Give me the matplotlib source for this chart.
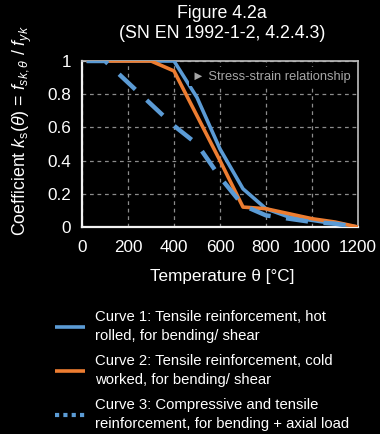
import matplotlib
matplotlib.use("Agg")
import matplotlib.pyplot as plt
from matplotlib.lines import Line2D

plt.rcParams['font.family'] = ['Liberation Sans', 'DejaVu Sans']
plt.rcParams['mathtext.fontset'] = 'custom'
plt.rcParams['mathtext.rm'] = 'Liberation Sans'
plt.rcParams['mathtext.it'] = 'Liberation Sans:italic'

temps = [20, 100, 200, 300, 400, 500, 600, 700, 800, 900, 1000, 1100, 1200]
curve1 = [1.00, 1.00, 1.00, 1.00, 1.00, 0.78, 0.47, 0.23, 0.11, 0.06, 0.04, 0.02, 0.00]
curve2 = [1.00, 1.00, 1.00, 1.00, 0.94, 0.67, 0.40, 0.12, 0.11, 0.08, 0.05, 0.03, 0.00]
curve3 = [1.00, 1.00, 0.87, 0.74, 0.61, 0.50, 0.30, 0.13, 0.07, 0.05, 0.03, 0.02, 0.00]
labels = ["Curve 1: Tensile reinforcement, hot\nrolled, for bending/ shear",
          "Curve 2: Tensile reinforcement, cold\nworked, for bending/ shear",
          "Curve 3: Compressive and tensile\nreinforcement, for bending + axial load"]
xticks = [0, 200, 400, 600, 800, 1000, 1200]
yticks = [0, 0.2, 0.4, 0.6, 0.8, 1.0]
yticklabels = ["0", "0.2", "0.4", "0.6", "0.8", "1"]

W, H = 380, 434
fig = plt.figure(figsize=(W / 100, H / 100), dpi=100, facecolor='black')
x0, x1, y0, y1 = 82, 358, 61, 227
ax = fig.add_axes([x0 / W, 1 - y1 / H, (x1 - x0) / W, (y1 - y0) / H], facecolor='black')

blue = '#5B9BD5'
orange = '#ED7D31'
lw = 2.6
l1, = ax.plot(temps, curve1, color=blue, lw=lw, solid_capstyle='butt', zorder=3)
l2, = ax.plot(temps, curve2, color=orange, lw=lw, solid_capstyle='butt', zorder=4)
l3, = ax.plot(temps, curve3, color=blue, lw=lw + 0.6, dashes=(5, 3.5), zorder=5)

ax.set_xlim(0, 1200)
ax.set_ylim(0, 1)
ax.set_xticks(xticks)
ax.set_xticklabels([str(t) for t in xticks])
ax.set_yticks(yticks)
ax.set_yticklabels(yticklabels)
ax.tick_params(colors='white', labelsize=12.3, length=0, pad=8)
ax.tick_params(axis='x', pad=9)
ax.grid(True, color='#8c8c8c', ls=(0, (3, 3)), lw=0.9)
ax.set_axisbelow(True)
for s in ['left', 'bottom']:
    ax.spines[s].set_color('#f2f2f2')
    ax.spines[s].set_linewidth(1.6)
for s in ['top', 'right']:
    ax.spines[s].set_color('#bfbfbf')
    ax.spines[s].set_linewidth(1.2)

fig.text(222 / W, 1 - 13 / H, "Figure 4.2a", color='white', fontsize=12.8, ha='center', va='center')
fig.text(222 / W, 1 - 34 / H, "(SN EN 1992-1-2, 4.2.4.3)", color='white', fontsize=12.8, ha='center', va='center')

fig.text(22 / W, 1 - 131 / H,
         r"Coefficient $\mathit{k}_{\mathrm{s}}(\theta)$ = $\mathit{f}_{\mathit{sk},\theta}$ / $\mathit{f}_{\mathit{yk}}$",
         color='white', fontsize=12.8, rotation=90, ha='center', va='center')
fig.text(222 / W, 1 - 277 / H, "Temperature θ [°C]", color='white', fontsize=12.3, ha='center', va='center')

ax.text(0.975, 0.905, "► Stress-strain relationship", transform=ax.transAxes,
        color='#a6a6a6', fontsize=9.3, ha='right', va='center', zorder=6,
        bbox=dict(facecolor='black', edgecolor='none', pad=2.5))

h3 = Line2D([], [], color=blue, lw=3, dashes=(1, 1))
leg = fig.legend([l1, l2, h3], labels, loc='upper left',
                 bbox_to_anchor=(49 / W, 1 - 304 / H), frameon=False,
                 fontsize=10.75, labelcolor='white', handlelength=2.0,
                 handletextpad=0.67, labelspacing=0.75, borderaxespad=0)
for t in leg.get_texts():
    t.set_linespacing(1.45)

fig.savefig("out.png", dpi=100, facecolor='black')
